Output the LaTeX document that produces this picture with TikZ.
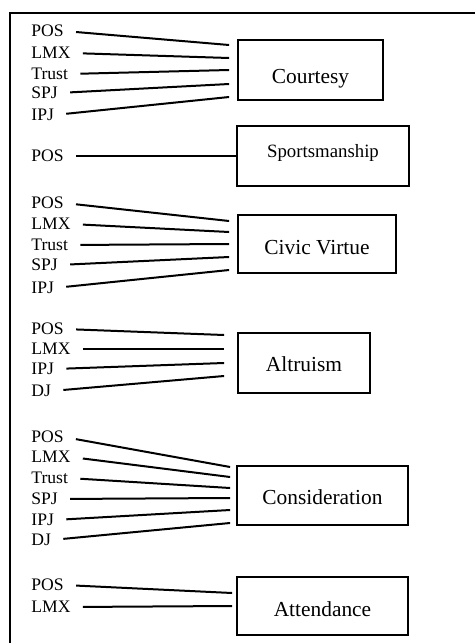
\documentclass[tikz,border=0pt]{standalone}
\usepackage{fontspec}
\setmainfont{Liberation Serif}

\begin{document}
\begin{tikzpicture}[
    x=0.5pt, y=-0.5pt,
    every node/.style={font=\fontsize{8.8}{10}\selectfont},
    var/.style={
      anchor=west, inner sep=0pt,
      text height=5.8pt, text depth=0pt,
    },
    box/.style={
      draw, line width=0.9pt, inner sep=0pt,
      font=\fontsize{10.7}{12}\selectfont,
      text height=7.1pt, text depth=0pt,
    },
    link/.style={
      line width=1pt, shorten <=6pt,
    },
    frame/.style={line width=0.8pt},
  ]
  \useasboundingbox (0,0) rectangle (475,643);
  \draw[frame] (475,13) -- (10,13) -- (10,643);

  % boxes
  \node[box, minimum width=72.5pt, minimum height=30pt, text height=13.1pt] (cour) at (310.5,70) {Courtesy};
  \node[box, minimum width=86pt, minimum height=30pt, font=\fontsize{9.4}{11}\selectfont,
        text height=6.2pt, text depth=5pt] (sport) at (323,156) {Sportsmanship};
  \node[box, minimum width=79pt, minimum height=29pt, text height=10.6pt] (civic) at (317,244) {Civic Virtue};
  \node[box, minimum width=66pt, minimum height=30pt, text height=8.1pt] (altr) at (304,363) {Altruism};
  \node[box, minimum width=85.5pt, minimum height=29.5pt, text height=9.1pt] (cons) at (322.5,495.5) {Consideration};
  \node[box, minimum width=85.5pt, minimum height=29pt, text height=10.6pt] (att) at (322.5,606) {Attendance};

  % Courtesy
  \node[var] (cpos) at (31,31) {POS};
  \node[var] (clmx) at (31,53) {LMX};
  \node[var] (ctrust) at (31,74) {Trust};
  \node[var] (cspj) at (31,93) {SPJ};
  \node[var] (cipj) at (31,115) {IPJ};
  \draw[link] (cpos.east) -- ([xshift=-4pt, yshift=12.5pt]cour.west);
  \draw[link] (clmx.east) -- ([xshift=-4pt, yshift=6pt]cour.west);
  \draw[link] (ctrust.east) -- ([xshift=-4pt]cour.west);
  \draw[link] (cspj.east) -- ([xshift=-4pt, yshift=-7pt]cour.west);
  \draw[link] (cipj.east) -- ([xshift=-4pt, yshift=-13.5pt]cour.west);

  % Sportsmanship
  \node[var] (spos) at (31,156) {POS};
  \draw[link] (spos.east) -- (sport.west);

  % Civic Virtue
  \node[var] (vpos) at (31,203) {POS};
  \node[var] (vlmx) at (31,224) {LMX};
  \node[var] (vtrust) at (31,245) {Trust};
  \node[var] (vspj) at (31,265) {SPJ};
  \node[var] (vipj) at (31,288) {IPJ};
  \draw[link] (vpos.east) -- ([xshift=-4pt, yshift=11.5pt]civic.west);
  \draw[link] (vlmx.east) -- ([xshift=-4pt, yshift=6pt]civic.west);
  \draw[link] (vtrust.east) -- ([xshift=-4pt]civic.west);
  \draw[link] (vspj.east) -- ([xshift=-4pt, yshift=-6.5pt]civic.west);
  \draw[link] (vipj.east) -- ([xshift=-4pt, yshift=-13pt]civic.west);

  % Altruism
  \node[var] (apos) at (31,329) {POS};
  \node[var] (almx) at (31,349) {LMX};
  \node[var] (aipj) at (31,369) {IPJ};
  \node[var] (adj) at (31,391) {DJ};
  \draw[link] (apos.east) -- ([xshift=-6.5pt, yshift=14pt]altr.west);
  \draw[link] (almx.east) -- ([xshift=-6.5pt, yshift=7pt]altr.west);
  \draw[link] (aipj.east) -- ([xshift=-6.5pt]altr.west);
  \draw[link] (adj.east) -- ([xshift=-6.5pt, yshift=-6.5pt]altr.west);

  % Consideration
  \node[var] (kpos) at (31,437) {POS};
  \node[var] (klmx) at (31,457) {LMX};
  \node[var] (ktrust) at (31,478) {Trust};
  \node[var] (kspj) at (31,499) {SPJ};
  \node[var] (kipj) at (31,520) {IPJ};
  \node[var] (kdj) at (31,540) {DJ};
  \draw[link] (kpos.east) -- ([xshift=-3pt, yshift=14.25pt]cons.west);
  \draw[link] (klmx.east) -- ([xshift=-3pt, yshift=9.25pt]cons.west);
  \draw[link] (ktrust.east) -- ([xshift=-3pt, yshift=3.75pt]cons.west);
  \draw[link] (kspj.east) -- ([xshift=-3pt, yshift=-1.25pt]cons.west);
  \draw[link] (kipj.east) -- ([xshift=-3pt, yshift=-7.25pt]cons.west);
  \draw[link] (kdj.east) -- ([xshift=-3pt, yshift=-13.75pt]cons.west);

  % Attendance
  \node[var] (tpos) at (31,585) {POS};
  \node[var] (tlmx) at (31,607) {LMX};
  \draw[link] (tpos.east) -- ([xshift=-2pt, yshift=6.5pt]att.west);
  \draw[link] (tlmx.east) -- ([xshift=-2pt]att.west);
\end{tikzpicture}
\end{document}
